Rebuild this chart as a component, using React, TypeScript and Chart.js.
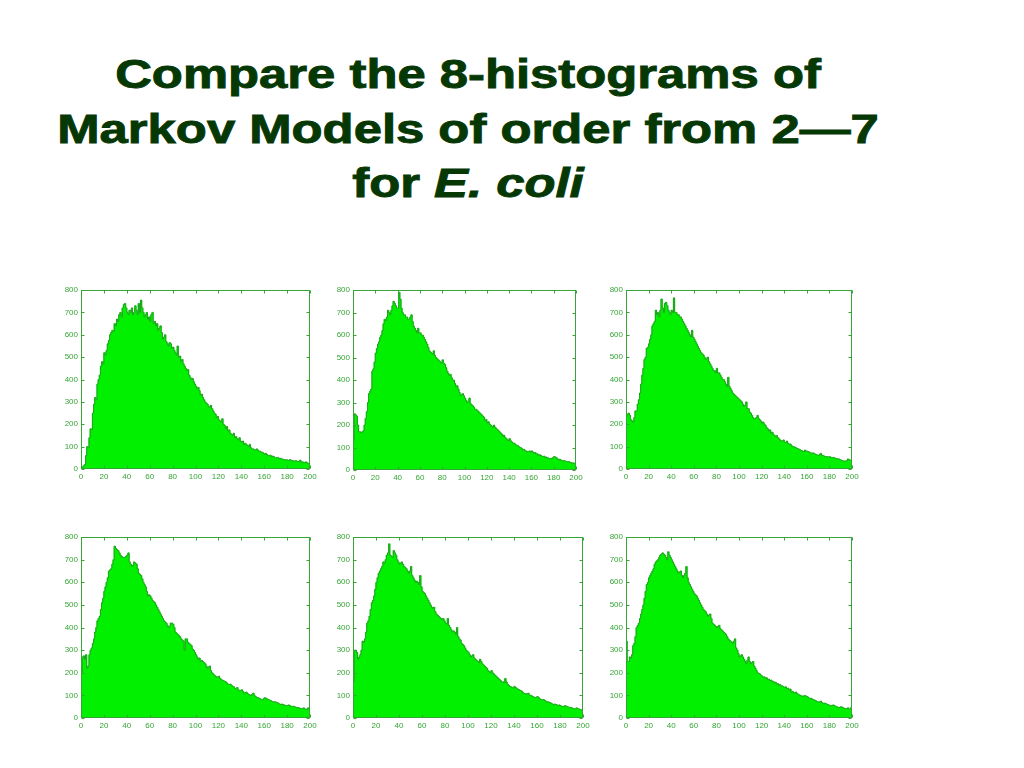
import React, { useEffect, useRef } from "react";
import { Chart, registerables } from "chart.js";

Chart.register(...registerables);

// ---- Data (counts per unit-width bin, bins 0..199) ----
const X_MIN = 0;
const X_MAX = 200;
const X_STEP = 20;
const Y_MIN = 0;
const Y_MAX = 800;
const Y_STEP = 100;

const TITLE_LINES = ["Compare the 8-histograms of", "Markov Models of order from 2\u20147"];
const TITLE_LAST_PLAIN = "for ";
const TITLE_LAST_ITALIC = "E. coli";

const order2 = [
  5, 10, 15, 20, 60, 100, 95, 140, 180, 175, 250, 290, 320, 310, 380, 400, 420, 460, 480, 470,
  520, 510, 530, 560, 575, 600, 610, 620, 615, 650, 640, 670, 660, 690, 700, 680, 720, 735, 740, 720,
  700, 690, 710, 700, 720, 690, 700, 730, 710, 690, 740, 700, 755, 720, 700, 680, 690, 700, 670, 680,
  660, 690, 700, 650, 660, 640, 650, 620, 630, 640, 610, 580, 590, 600, 570, 560, 550, 565, 560, 540,
  545, 530, 520, 510, 550, 500, 505, 480, 490, 470, 460, 450, 440, 445, 420, 410, 400, 405, 390, 380,
  370, 360, 365, 350, 330, 335, 320, 310, 300, 295, 290, 280, 275, 285, 270, 260, 250, 245, 230, 235,
  220, 215, 210, 225, 200, 195, 180, 190, 170, 175, 160, 155, 150, 160, 140, 145, 135, 130, 140, 125,
  120, 125, 110, 115, 110, 105, 100, 110, 95, 90, 90, 85, 85, 90, 85, 80, 80, 75, 75, 70,
  65, 70, 65, 60, 60, 62, 55, 58, 55, 50, 50, 52, 50, 45, 48, 45, 44, 42, 40, 42,
  40, 38, 42, 40, 38, 36, 35, 38, 35, 33, 35, 40, 30, 32, 30, 28, 32, 28, 25, 26,
];

const order3 = [
  130, 250, 245, 240, 200, 170, 170, 165, 170, 175, 200, 230, 260, 300, 340, 350, 360, 440, 450, 480,
  520, 540, 560, 570, 590, 600, 620, 650, 670, 665, 680, 710, 700, 690, 710, 730, 750, 740, 730, 720,
  720, 790, 760, 720, 700, 690, 690, 680, 680, 670, 670, 680, 690, 660, 640, 630, 620, 610, 630, 610,
  610, 600, 600, 590, 580, 570, 560, 545, 530, 525, 520, 515, 530, 510, 500, 495, 490, 485, 480, 475,
  490, 475, 470, 455, 440, 430, 420, 425, 410, 400, 400, 385, 370, 375, 360, 345, 330, 335, 340, 330,
  320, 310, 300, 305, 320, 295, 290, 285, 280, 270, 270, 265, 260, 255, 250, 245, 240, 235, 220, 225,
  210, 215, 205, 200, 195, 190, 200, 190, 185, 180, 175, 170, 165, 160, 150, 155, 145, 140, 135, 130,
  140, 130, 125, 120, 120, 115, 110, 110, 105, 100, 100, 95, 90, 92, 85, 85, 80, 82, 85, 80,
  85, 80, 75, 78, 70, 72, 65, 68, 65, 62, 60, 62, 55, 58, 55, 52, 50, 52, 50, 55,
  60, 58, 55, 50, 45, 48, 45, 42, 40, 42, 40, 38, 35, 38, 35, 33, 30, 32, 30, 28,
];

const order4 = [
  240, 245, 250, 240, 220, 215, 210, 230, 260, 260, 290, 310, 340, 380, 420, 450, 490, 500, 540, 545,
  560, 580, 600, 640, 650, 660, 710, 690, 700, 680, 710, 760, 720, 700, 740, 745, 730, 710, 700, 690,
  710, 700, 765, 700, 700, 690, 690, 680, 680, 670, 660, 650, 640, 630, 620, 610, 600, 590, 620, 590,
  580, 570, 560, 550, 540, 530, 520, 515, 510, 500, 490, 495, 500, 480, 470, 460, 450, 440, 440, 430,
  450, 430, 430, 420, 410, 400, 400, 390, 380, 370, 410, 370, 360, 350, 340, 335, 330, 325, 320, 315,
  310, 305, 300, 290, 280, 285, 300, 270, 270, 255, 250, 240, 230, 225, 225, 230, 240, 225, 220, 215,
  205, 210, 200, 195, 185, 180, 170, 175, 160, 165, 155, 150, 145, 150, 140, 135, 130, 125, 125, 130,
  120, 118, 125, 115, 110, 112, 105, 100, 100, 98, 95, 92, 90, 88, 85, 82, 80, 78, 85, 80,
  80, 78, 75, 72, 70, 72, 70, 66, 65, 62, 60, 65, 70, 62, 60, 58, 55, 56, 55, 54,
  55, 52, 50, 52, 50, 48, 45, 46, 45, 42, 40, 38, 35, 36, 35, 38, 45, 42, 40, 38,
];

const order5 = [
  200, 270, 275, 260, 280, 220, 230, 280, 300, 310, 330, 350, 380, 400, 430, 440, 450, 480, 510, 530,
  560, 580, 600, 620, 650, 655, 660, 680, 700, 760, 750, 745, 740, 730, 720, 715, 710, 710, 710, 715,
  720, 730, 690, 680, 670, 675, 690, 685, 680, 660, 640, 635, 630, 615, 600, 590, 580, 560, 540, 545,
  540, 530, 520, 515, 510, 500, 490, 480, 470, 460, 450, 440, 430, 425, 420, 410, 400, 405, 420, 420,
  415, 400, 380, 375, 370, 365, 360, 350, 345, 340, 300, 350, 350, 335, 330, 325, 320, 305, 300, 290,
  280, 270, 260, 265, 250, 255, 250, 245, 240, 230, 220, 225, 230, 210, 200, 195, 190, 185, 180, 182,
  185, 175, 170, 168, 165, 162, 160, 155, 150, 148, 150, 145, 140, 138, 130, 132, 135, 125, 120, 122,
  125, 118, 110, 112, 115, 108, 105, 102, 100, 105, 110, 100, 95, 92, 90, 88, 85, 82, 80, 85,
  90, 88, 85, 82, 80, 78, 75, 72, 70, 72, 70, 68, 65, 62, 60, 62, 60, 58, 55, 56,
  55, 58, 55, 52, 50, 52, 50, 48, 45, 47, 45, 42, 40, 42, 45, 40, 40, 38, 45, 42,
];

const order6 = [
  160, 300, 300, 290, 260, 270, 280, 300, 340, 335, 350, 380, 420, 430, 450, 480, 510, 520, 540, 570,
  600, 620, 640, 650, 660, 670, 690, 685, 700, 720, 730, 770, 720, 715, 710, 740, 730, 720, 700, 690,
  680, 685, 690, 680, 670, 665, 660, 650, 640, 650, 670, 630, 620, 610, 600, 605, 600, 590, 630, 580,
  560, 555, 550, 540, 530, 520, 510, 500, 490, 485, 490, 470, 460, 455, 450, 445, 440, 435, 440, 430,
  420, 415, 440, 410, 400, 390, 380, 385, 380, 370, 400, 360, 350, 345, 330, 325, 320, 310, 300, 295,
  290, 280, 270, 275, 280, 265, 260, 255, 250, 245, 260, 250, 240, 235, 230, 225, 220, 210, 205, 200,
  210, 200, 195, 190, 185, 180, 175, 170, 165, 160, 160, 155, 175, 160, 150, 145, 140, 138, 135, 132,
  140, 135, 130, 128, 125, 122, 120, 115, 110, 108, 105, 108, 110, 102, 100, 98, 95, 92, 90, 92,
  95, 90, 85, 82, 80, 82, 80, 75, 70, 72, 70, 68, 65, 62, 60, 62, 60, 58, 55, 58,
  55, 52, 50, 52, 55, 52, 50, 48, 45, 47, 45, 42, 40, 42, 45, 42, 40, 38, 35, 38,
];

const order7 = [
  340, 250, 250, 270, 265, 280, 320, 330, 360, 400, 410, 420, 440, 460, 480, 500, 530, 560, 590, 600,
  620, 630, 640, 650, 660, 680, 690, 695, 700, 710, 720, 725, 730, 725, 720, 710, 700, 735, 720, 710,
  700, 690, 680, 670, 660, 650, 640, 645, 650, 630, 620, 630, 640, 670, 620, 600, 590, 580, 570, 560,
  550, 545, 540, 530, 520, 510, 500, 490, 480, 475, 470, 460, 450, 455, 460, 440, 420, 415, 410, 405,
  400, 405, 410, 395, 390, 385, 380, 375, 370, 360, 350, 345, 340, 335, 330, 340, 350, 310, 300, 285,
  270, 275, 280, 270, 260, 250, 240, 255, 270, 250, 240, 245, 250, 230, 220, 210, 200, 198, 195, 190,
  185, 180, 182, 175, 178, 170, 172, 165, 168, 160, 162, 155, 158, 150, 152, 145, 148, 140, 142, 138,
  135, 138, 130, 132, 125, 128, 115, 118, 110, 112, 115, 108, 105, 102, 100, 98, 95, 98, 100, 96,
  95, 90, 85, 88, 85, 82, 80, 78, 75, 72, 70, 72, 75, 68, 65, 66, 65, 62, 60, 58,
  55, 56, 55, 58, 55, 52, 50, 48, 45, 48, 50, 47, 45, 42, 40, 42, 45, 40, 40, 48,
];

const SERIES = [order2, order3, order4, order5, order6, order7];

// ---- Layout / style (not data) ----
const PLOT_BOXES = [
  { l: 81, t: 290, w: 229, h: 179 },
  { l: 353, t: 290, w: 223, h: 180 },
  { l: 626, t: 290, w: 226, h: 179 },
  { l: 81, t: 537, w: 229, h: 181 },
  { l: 353, t: 537, w: 230, h: 181 },
  { l: 626, t: 537, w: 226, h: 181 },
];

const FILL = "#00f000";
const EDGE = "#23a023";
const AXIS = "#35a535";
const TITLE_COLOR = "#063806";
const AXIS_W = 30;
const PAD_TOP = 8;
const PAD_RIGHT = 10;
const XAXIS_H = 16;
const TICK_LEN = 3;

const boxPlugin = {
  id: "matlabBox",
  afterDatasetsDraw(chart: any) {
    const { ctx, chartArea: a, scales } = chart;
    const l = Math.round(a.left) + 0.5;
    const r = Math.round(a.right) - 0.5;
    const t = Math.round(a.top) + 0.5;
    const b = Math.round(a.bottom) - 0.5;
    ctx.save();
    ctx.strokeStyle = AXIS;
    ctx.lineWidth = 1;
    ctx.strokeRect(l, t, r - l, b - t);
    ctx.beginPath();
    scales.x.ticks.forEach((tk: any) => {
      const px = Math.round(scales.x.getPixelForValue(tk.value)) + 0.5;
      ctx.moveTo(px, b);
      ctx.lineTo(px, b - TICK_LEN);
      ctx.moveTo(px, t);
      ctx.lineTo(px, t + TICK_LEN);
    });
    scales.y.ticks.forEach((tk: any) => {
      const py = Math.round(scales.y.getPixelForValue(tk.value)) + 0.5;
      ctx.moveTo(l, py);
      ctx.lineTo(l + TICK_LEN, py);
      ctx.moveTo(r, py);
      ctx.lineTo(r - TICK_LEN, py);
    });
    ctx.stroke();
    ctx.restore();
  },
};

const tickFont = { family: "'Liberation Sans', Arial, sans-serif", size: 8 };

function Histogram({ values, box }: { values: number[]; box: { l: number; t: number; w: number; h: number } }) {
  const ref = useRef<HTMLCanvasElement>(null);
  const cw = box.w + AXIS_W + PAD_RIGHT;
  const ch = box.h + PAD_TOP + XAXIS_H;

  useEffect(() => {
    const pts = values.map((v, i) => ({ x: X_MIN + i + 0.5, y: v }));
    const chart = new Chart(ref.current as HTMLCanvasElement, {
      type: "bar",
      data: {
        datasets: [
          {
            type: "line",
            data: pts,
            stepped: "middle",
            borderColor: EDGE,
            borderWidth: 1,
            pointRadius: 0,
            fill: false,
            order: 1,
          } as any,
          {
            type: "bar",
            data: pts,
            backgroundColor: FILL,
            borderWidth: 0,
            inflateAmount: 0,
            barPercentage: 2,
            categoryPercentage: 1,
            order: 2,
          } as any,
        ],
      },
      options: {
        responsive: false,
        animation: false,
        events: [],
        layout: { padding: { top: PAD_TOP, right: PAD_RIGHT, left: 0, bottom: 0 } },
        plugins: { legend: { display: false }, tooltip: { enabled: false }, title: { display: false } },
        scales: {
          x: {
            type: "linear",
            min: X_MIN,
            max: X_MAX,
            offset: false,
            grid: { display: false, drawTicks: false, offset: false },
            border: { display: false },
            ticks: {
              stepSize: X_STEP,
              autoSkip: false,
              maxRotation: 0,
              padding: 3,
              color: AXIS,
              font: tickFont,
            },
            afterFit: (s: any) => {
              s.height = XAXIS_H;
            },
          },
          y: {
            type: "linear",
            min: Y_MIN,
            max: Y_MAX,
            grid: { display: false, drawTicks: false },
            border: { display: false },
            ticks: { stepSize: Y_STEP, padding: 3, color: AXIS, font: tickFont },
            afterFit: (s: any) => {
              s.width = AXIS_W;
            },
          },
        },
      } as any,
      plugins: [boxPlugin],
    });
    return () => chart.destroy();
  }, [values]);

  return (
    <canvas
      ref={ref}
      width={cw}
      height={ch}
      style={{ position: "absolute", left: box.l - AXIS_W, top: box.t - PAD_TOP, width: cw, height: ch }}
    />
  );
}

export default function App() {
  return (
    <div style={{ position: "absolute", left: 0, top: 0, width: 1024, height: 768, background: "#fff", overflow: "hidden" }}>
      <div
        style={{
          position: "absolute",
          left: 0,
          top: 47,
          width: 936,
          textAlign: "center",
          fontFamily: "'Liberation Sans', Arial, sans-serif",
          fontWeight: "bold",
          fontSize: 40,
          lineHeight: "54.5px",
          color: TITLE_COLOR,
          WebkitTextStroke: `0.9px ${TITLE_COLOR}`,
          transform: "scaleX(1.27)",
          transformOrigin: "468px 0",
          whiteSpace: "nowrap",
        }}
      >
        {TITLE_LINES.map((s, i) => (
          <div key={i}>{s}</div>
        ))}
        <div>
          {TITLE_LAST_PLAIN}
          <i>{TITLE_LAST_ITALIC}</i>
        </div>
      </div>
      {SERIES.map((vals, i) => (
        <Histogram key={i} values={vals} box={PLOT_BOXES[i]} />
      ))}
    </div>
  );
}
